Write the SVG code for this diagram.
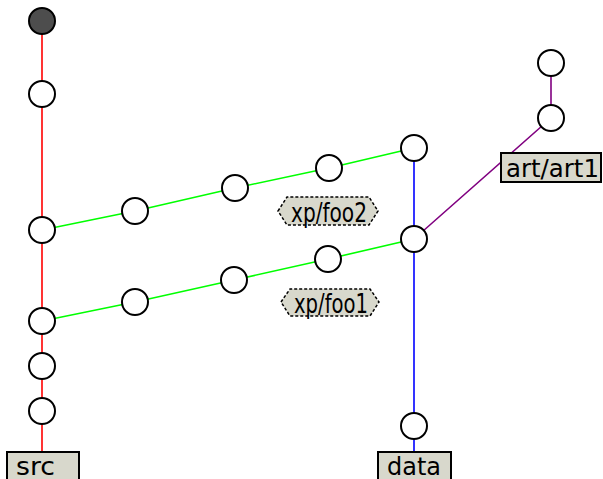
<svg xmlns="http://www.w3.org/2000/svg" width="603" height="479" viewBox="0 0 603 479">
<style>
.n{fill:#fff;stroke:#000;stroke-width:2}
.f{fill:#4d4d4d;stroke:#000;stroke-width:2}
.e{fill:none;stroke-width:1.6}
.box{fill:#d8d8cc;stroke:#000;stroke-width:2}
.tag{fill:#d8d8cc;stroke:#000;stroke-width:1.5;stroke-dasharray:3,2}
.t{font-family:"DejaVu Sans",sans-serif;font-size:25px;fill:#000}
.tc{font-family:"DejaVu Sans",sans-serif;font-size:26px;fill:#000}
</style>
<rect width="603" height="479" fill="#fff"/>
<g id="connectors">
<path class="e" stroke="#ff0000" d="M42,21V479"/>
<path class="e" stroke="#00ff00" d="M42,230L135,211L235,188L329,168L414,148"/>
<path class="e" stroke="#00ff00" d="M42,321L135,302L234,280L328,259L414,239"/>
<path class="e" stroke="#0000ff" d="M414,148V452"/>
<path class="e" stroke="#800080" d="M414,239L551,118M551,63V118"/>
</g>
<g id="n0"><circle class="f" cx="42" cy="21" r="13"/></g>
<g id="n1"><circle class="n" cx="42" cy="94" r="13"/></g>
<g id="n2"><circle class="n" cx="42" cy="230" r="13"/></g>
<g id="n3"><circle class="n" cx="42" cy="321" r="13"/></g>
<g id="n4"><circle class="n" cx="42" cy="366" r="13"/></g>
<g id="n5"><circle class="n" cx="42" cy="411" r="13"/></g>
<g id="a1"><circle class="n" cx="135" cy="211" r="13"/></g>
<g id="a2"><circle class="n" cx="235" cy="188" r="13"/></g>
<g id="a3"><circle class="n" cx="329" cy="168" r="13"/></g>
<g id="a4"><circle class="n" cx="414" cy="148" r="13"/></g>
<g id="b1"><circle class="n" cx="135" cy="302" r="13"/></g>
<g id="b2"><circle class="n" cx="234" cy="280" r="13"/></g>
<g id="b3"><circle class="n" cx="328" cy="259" r="13"/></g>
<g id="d1"><circle class="n" cx="414" cy="239" r="13"/></g>
<g id="d2"><circle class="n" cx="414" cy="426" r="13"/></g>
<g id="p1"><circle class="n" cx="551" cy="63" r="13"/></g>
<g id="p2"><circle class="n" cx="551" cy="118" r="13"/></g>
<g id="src"><rect class="box" x="7" y="452" width="72" height="30"/><text class="t" x="16" y="475" textLength="39" lengthAdjust="spacingAndGlyphs">src</text></g>
<g id="data"><rect class="box" x="378" y="452" width="73" height="30"/><text class="t" x="387" y="475" textLength="54" lengthAdjust="spacingAndGlyphs">data</text></g>
<g id="art"><rect class="box" x="501" y="153" width="100" height="29"/><text class="t" x="506" y="177" textLength="93" lengthAdjust="spacingAndGlyphs">art/art1</text></g>
<g id="foo2"><polygon class="tag" points="278,211 287,197 369,197 378,211 369,225 287,225"/><text class="tc" x="291" y="222" textLength="76" lengthAdjust="spacingAndGlyphs">xp/foo2</text></g>
<g id="foo1"><polygon class="tag" points="281,302 290,289 370,289 379,302 370,316 290,316"/><text class="tc" x="294" y="313" textLength="74" lengthAdjust="spacingAndGlyphs">xp/foo1</text></g>
</svg>
